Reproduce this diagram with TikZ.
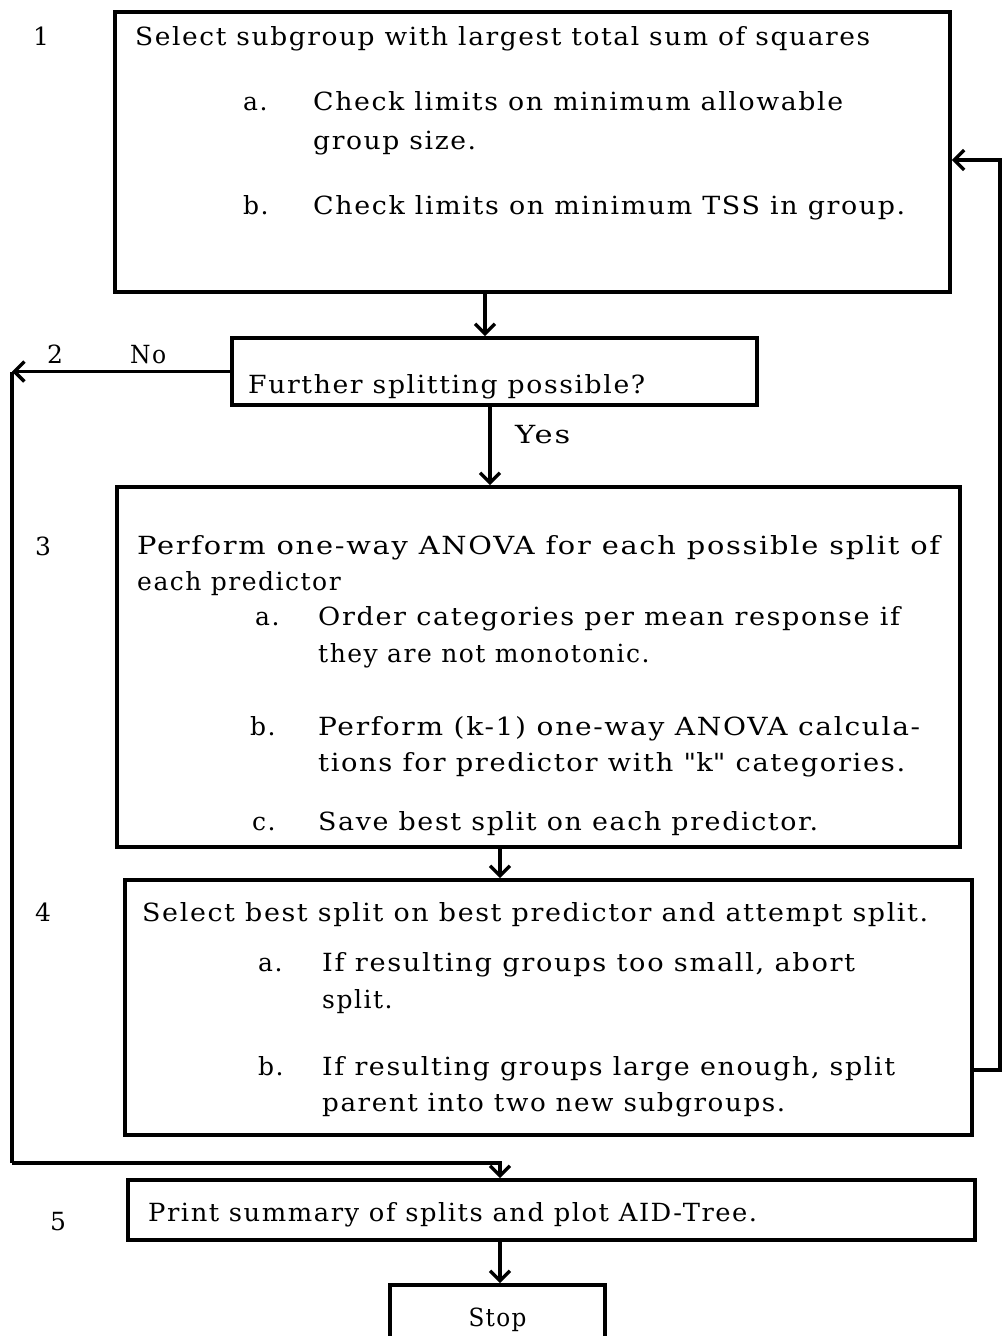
\documentclass[tikz,border=0pt]{standalone}
\usepackage{fontspec}
\setmainfont{DejaVu Serif}[LetterSpace=6]
\usetikzlibrary{arrows.meta}
\newlength\fwl
\newcommand\fitw[2]{\settowidth\fwl{#2}\pgfmathsetmacro\fwr{#1/\fwl}\scalebox{\fwr}[1]{#2}}
\tikzset{
  box/.style={draw, line width=3.6pt, rectangle, inner sep=0pt},
  conn/.style={line width=3.2pt},
  arr/.style={line width=3.2pt, -{Straight Barb[length=10pt,width=20pt,line width=3.4pt]}},
  txt/.style={anchor=base west, inner sep=0pt, font=\fontsize{25}{30}\selectfont},
  num/.style={anchor=base, inner sep=0pt, font=\fontsize{25}{30}\selectfont},
}
\begin{document}
\begin{tikzpicture}[x=1pt,y=-1pt]
\fill[white] (0,0) rectangle (1005,1336);
\useasboundingbox (0,0) rectangle (1005,1336);
\begin{scope}
\clip (0,0) rectangle (1005,1336);
% boxes
\node[box, minimum width=835, minimum height=280] (b1) at (532.5,152) {};
\node[box, minimum width=525, minimum height=67] (b2) at (494.5,371.5) {};
\node[box, minimum width=843, minimum height=360] (b3) at (538.5,667) {};
\node[box, minimum width=847, minimum height=255] (b4) at (548.5,1007.5) {};
\node[box, minimum width=847, minimum height=60] (b5) at (551.5,1210) {};
\node[box, minimum width=215, minimum height=70] (stop) at (497.5,1320) {\fontsize{25}{30}\selectfont\fitw{58}{Stop}};
% helper coordinates
\coordinate (x12) at (485,0);
\coordinate (x23) at (490,0);
\coordinate (x34) at (500,0);
\coordinate (L1) at (12,371.5);
\coordinate (L2) at (12,1163);
\coordinate (L3) at (500,1163);
\coordinate (R1) at (1000,1070);
\coordinate (R2) at (1000,160);
% connectors
\draw[arr] (b1.south -| x12) -- (b2.north -| x12);
\draw[arr] (b2.west) -- (L1);
\draw[conn] (L1) -- (L2);
\draw[arr] (L2) -- (L3) -- (b5.north -| L3);
\draw[arr] (b2.south -| x23) -- (b3.north -| x23);
\draw[arr] (b3.south -| x34) -- (b4.north -| x34);
\draw[arr] (b4.east |- R1) -- (R1) -- (R2) -- (b1.east |- R2);
\draw[arr] (b5.south -| x34) -- (stop.north -| x34);
% numbers
\node[num] (n1) at (41,45) {1};
\node[num] (n2) at (55,363) {2};
\node[num] (n3) at (43,555) {3};
\node[num] (n4) at (43,921) {4};
\node[num] (n5) at (58,1230) {5};
\node[txt] (no) at (130,363) {\fitw{36}{No}};
\node[txt] (yes) at (515,443) {\fitw{55}{Yes}};
% box 1
\node[txt] (t1) at (135,45) {\fitw{735}{Select subgroup with largest total sum of squares}};
\node[txt] (t1a) at (243,110) {a.};
\node[txt] (t1a1) at (313,110) {\fitw{530}{Check limits on minimum allowable}};
\node[txt] (t1a2) at (313,149) {\fitw{163}{group size.}};
\node[txt] (t1b) at (243,214) {b.};
\node[txt] (t1b1) at (313,214) {\fitw{592}{Check limits on minimum TSS in group.}};
% box 2
\node[txt] (t2) at (248,393) {\fitw{397}{Further splitting possible?}};
% box 3
\node[txt] (t3) at (137,554) {\fitw{803}{Perform one-way ANOVA for each possible split of}};
\node[txt] (t3x) at (137,590) {each predictor};
\node[txt] (t3a) at (255,625) {a.};
\node[txt] (t3a1) at (318,625) {\fitw{582}{Order categories per mean response if}};
\node[txt] (t3a2) at (318,662) {they are not monotonic.};
\node[txt] (t3b) at (250,735) {b.};
\node[txt] (t3b1) at (318,735) {\fitw{602}{Perform (k-1) one-way ANOVA calcula-}};
\node[txt] (t3b2) at (318,771) {\fitw{587}{tions for predictor with \textquotedbl k\textquotedbl{} categories.}};
\node[txt] (t3c) at (252,830) {c.};
\node[txt] (t3c1) at (318,830) {\fitw{500}{Save best split on each predictor.}};
% box 4
\node[txt] (t4) at (142,921) {\fitw{786}{Select best split on best predictor and attempt split.}};
\node[txt] (t4a) at (258,971) {a.};
\node[txt] (t4a1) at (322,971) {\fitw{533}{If resulting groups too small, abort}};
\node[txt] (t4a2) at (322,1008) {split.};
\node[txt] (t4b) at (258,1075) {b.};
\node[txt] (t4b1) at (322,1075) {\fitw{573}{If resulting groups large enough, split}};
\node[txt] (t4b2) at (322,1111) {\fitw{463}{parent into two new subgroups.}};
% box 5
\node[txt] (t5) at (148,1221) {\fitw{609}{Print summary of splits and plot AID-Tree.}};
\end{scope}
\end{tikzpicture}
\end{document}
